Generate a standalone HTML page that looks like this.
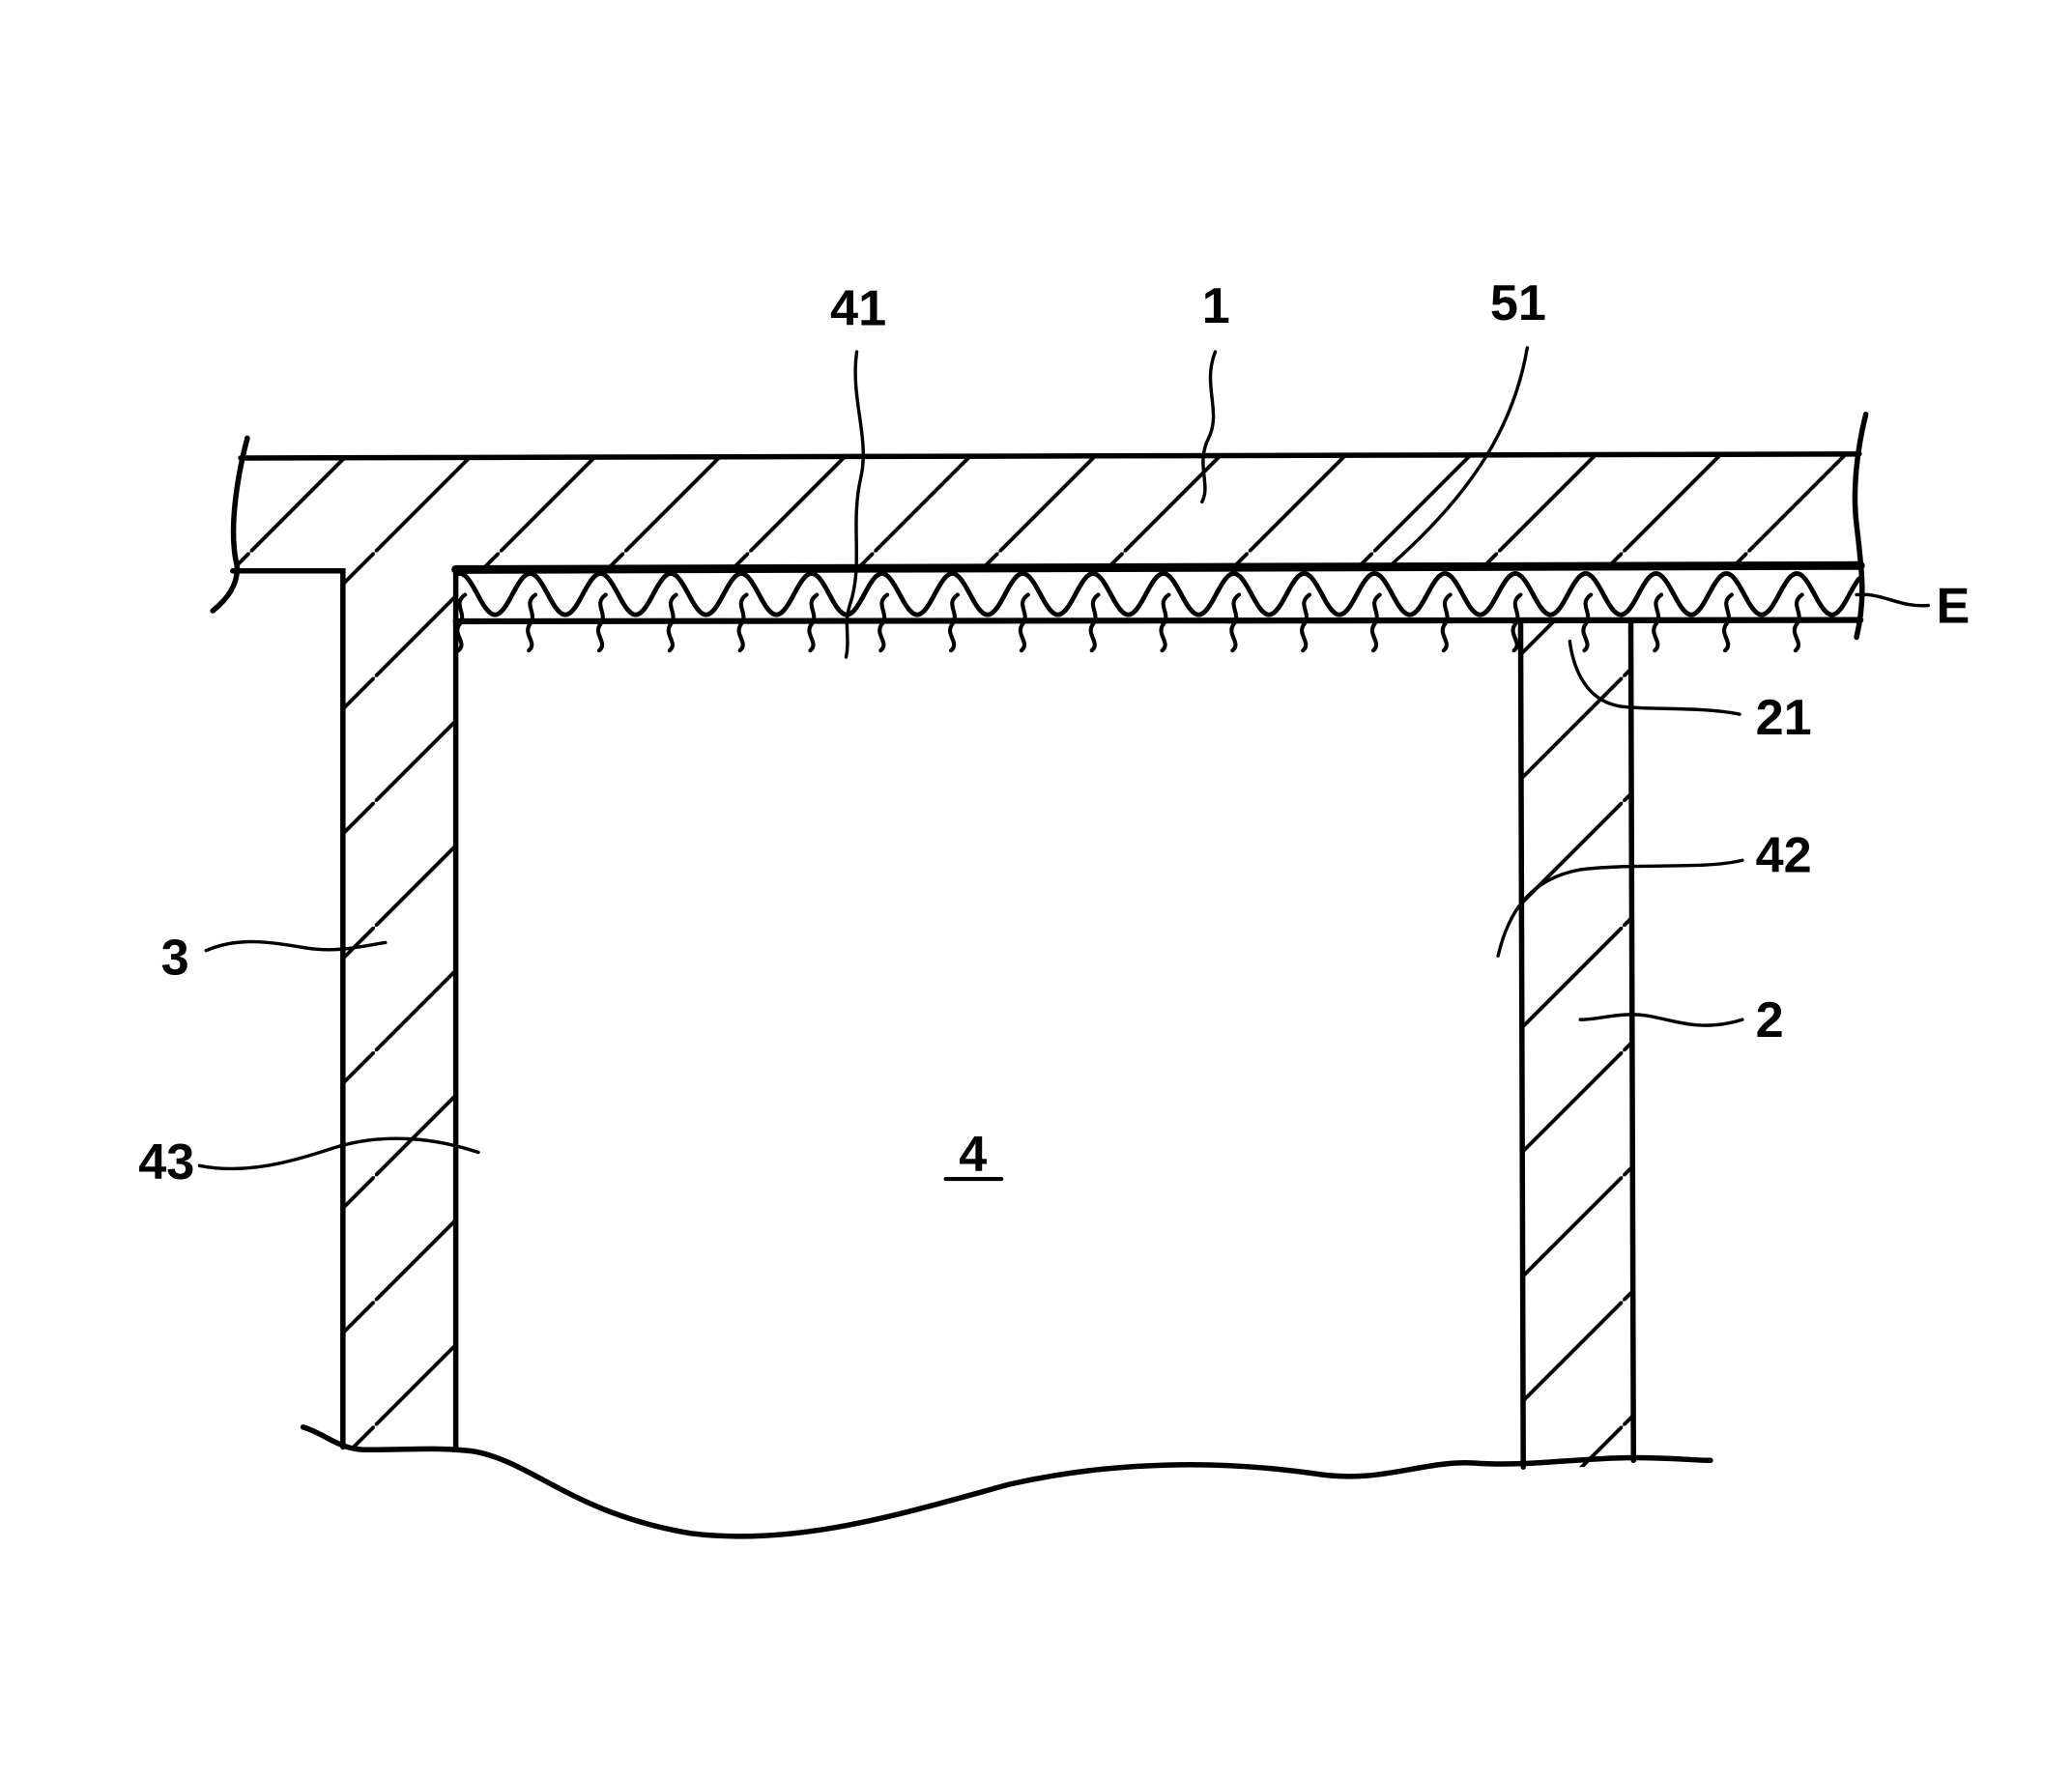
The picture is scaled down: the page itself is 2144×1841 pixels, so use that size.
<!DOCTYPE html>
<html><head><meta charset="utf-8"><style>
html,body{margin:0;padding:0;background:#fff}
svg{display:block}
text{font-family:"Liberation Sans",sans-serif;font-weight:bold;font-size:38px;fill:#000}
</style></head><body>
<svg id="s" width="2144" height="1841" viewBox="0 0 1560 1340" xmlns="http://www.w3.org/2000/svg">
<defs>
<pattern id="h" patternUnits="userSpaceOnUse" width="94" height="94" x="0" y="40">
<line x1="-2" y1="96" x2="96" y2="-2" stroke="#000" stroke-width="2.8"/>
</pattern>
</defs>
<path d="M181 345 L1400 343 L1400 428 L343 430 L258 430 L178 430 Z" fill="url(#h)"/>
<rect x="258" y="430" width="86" height="660" fill="url(#h)"/>
<rect x="1145" y="468" width="83" height="637" fill="url(#h)"/>
<g fill="none" stroke="#000" stroke-width="4" stroke-linecap="round">
<line x1="181" y1="345" x2="1400" y2="342"/>
<polyline points="175,430 258,430 258,1090"/>
<line x1="343" y1="430" x2="343" y2="1090"/>
<line x1="343" y1="429" x2="1401" y2="426" stroke-width="6.5"/>
<line x1="343" y1="468" x2="1401" y2="467" stroke-width="4.5"/>
<line x1="1145" y1="468" x2="1147" y2="1105"/>
<line x1="1228" y1="468" x2="1230" y2="1100"/>
<path d="M186 330 C178 360 172 400 178 425 C180 440 170 452 160 460"/>
<path d="M1405 312 C1398 340 1395 370 1398 395 C1402 430 1405 450 1398 480"/>
<path d="M228 1075 C245 1080 255 1092 275 1092 C310 1092 330 1090 355 1093 C400 1100 430 1140 520 1155 C600 1165 680 1140 760 1118 C840 1100 920 1100 990 1110 C1040 1118 1070 1100 1110 1102 C1150 1105 1190 1098 1230 1098 C1260 1098 1275 1100 1288 1100"/>
<path d="M645 265 C640 300 655 330 648 360 C640 395 650 425 640 455 C635 470 640 480 637 495" stroke-width="2.5"/>
<path d="M915 265 C905 290 920 310 910 330 C900 350 912 365 905 378" stroke-width="2.5"/>
<path d="M1150 262 C1140 320 1110 370 1048 425" stroke-width="2.5"/>
<path d="M1452 456 C1430 458 1418 446 1398 448" stroke-width="2.5"/>
<path d="M1310 538 C1280 532 1240 535 1220 532 C1195 528 1185 505 1182 483" stroke-width="2.5"/>
<path d="M1312 648 C1285 655 1230 650 1190 655 C1150 662 1135 690 1128 720" stroke-width="2.5"/>
<path d="M1312 768 C1280 778 1260 768 1240 765 C1220 762 1205 768 1190 768" stroke-width="2.5"/>
<path d="M155 716 C180 705 205 710 230 714 C255 718 275 712 290 710" stroke-width="2.5"/>
<path d="M150 878 C185 885 220 875 250 865 C290 852 330 858 360 868" stroke-width="2.5"/>
<line x1="712" y1="888" x2="754" y2="888" stroke-width="3"/>
</g>
<g id="w" fill="none" stroke="#000" stroke-width="3.5" stroke-linecap="round"></g>
<text x="625" y="245">41</text>
<text x="905" y="243" textLength="20">1</text>
<text x="1122" y="241">51</text>
<text x="1458" y="469">E</text>
<text x="1322" y="553">21</text>
<text x="1322" y="657">42</text>
<text x="1322" y="781">2</text>
<text x="121" y="734">3</text>
<text x="104" y="888">43</text>
<text x="722" y="882">4</text>
</svg>
<script>
var g=document.getElementById('w'),pts=[],sq='';
var p=53,x0=346;
for(var x=344;x<=1400;x+=1){
 var y=447.5-15.5*Math.cos(2*Math.PI*(x-x0)/p);
 pts.push(x+','+y.toFixed(1));
}
for(var x=x0;x<1400;x+=p){
 sq+='<path d="M'+(x+4)+' 448 C'+(x-6)+' 455 '+(x+6)+' 462 '+(x)+' 470 C'+(x-6)+' 478 '+(x+6)+' 484 '+(x-1)+' 490" stroke-width="3"/>';
}
g.innerHTML='<polyline points="'+pts.join(' ')+'"/>'+sq;
</script>
</body></html>
